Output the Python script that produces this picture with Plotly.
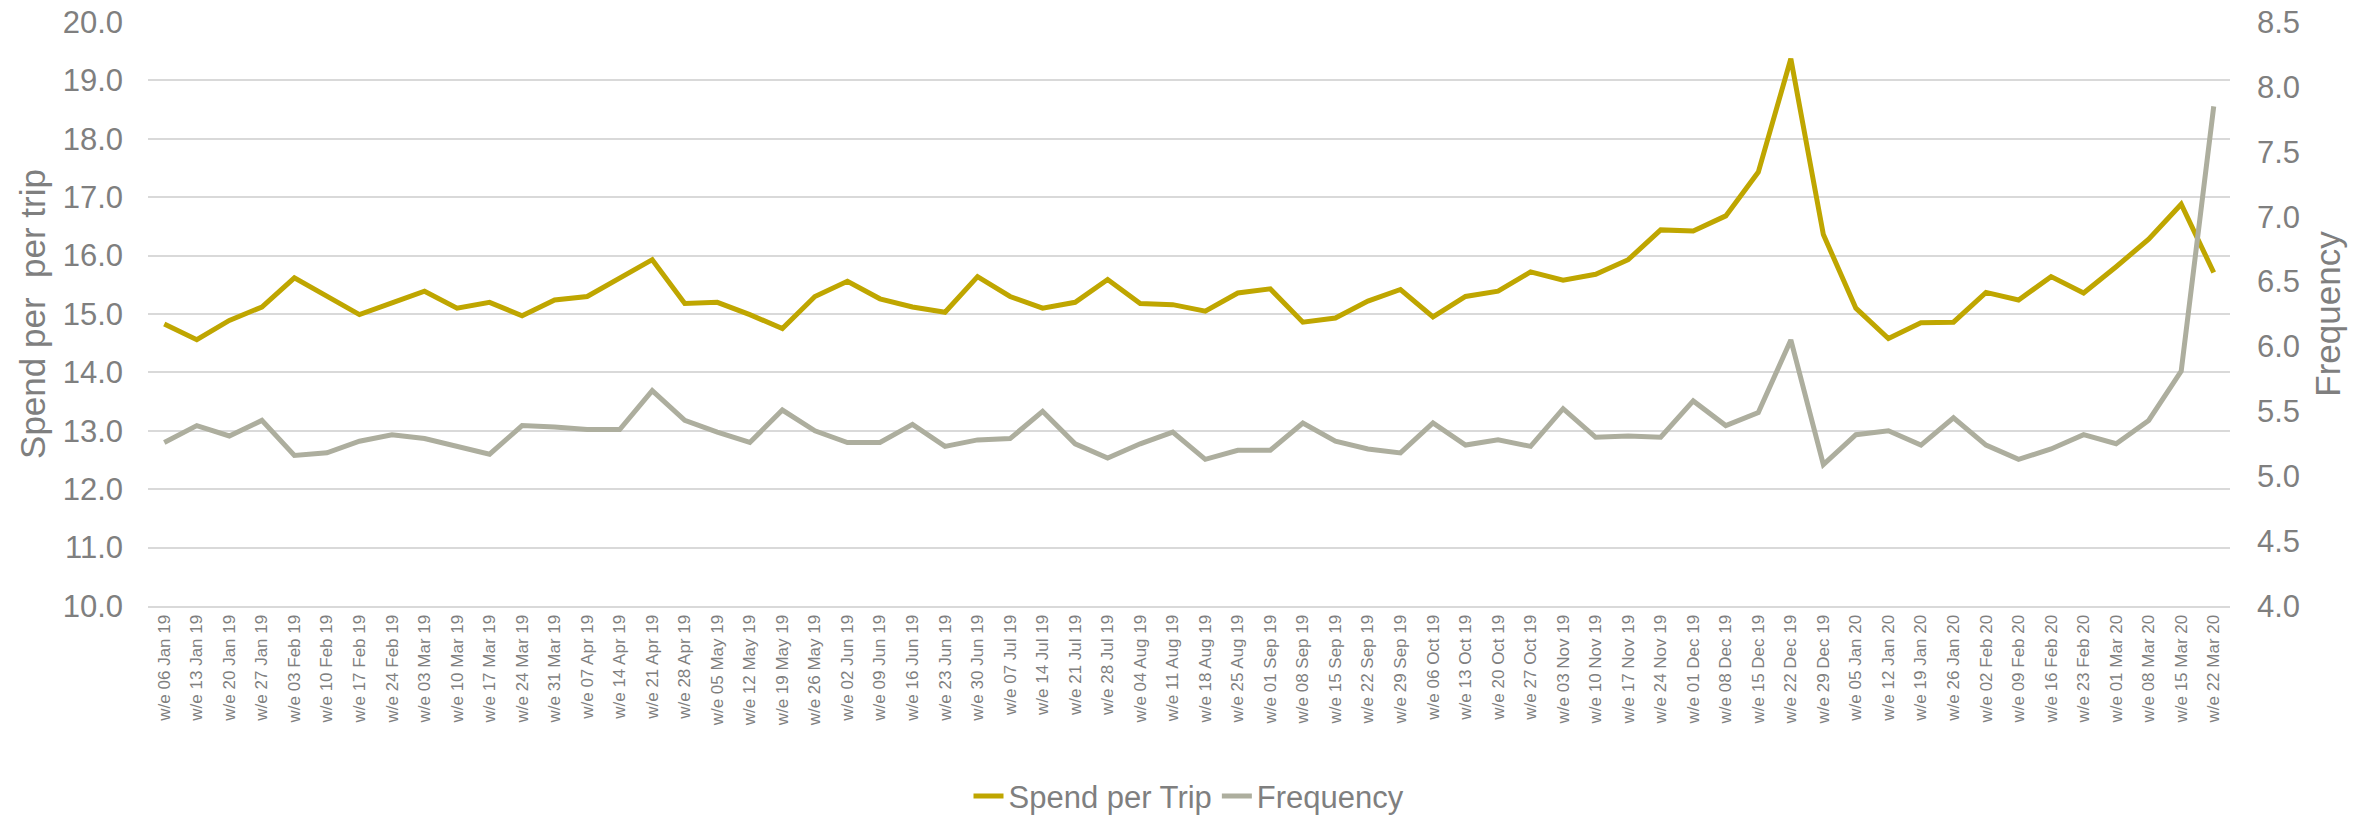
import plotly.graph_objects as go

weeks = [
    "w/e 06 Jan 19", "w/e 13 Jan 19", "w/e 20 Jan 19", "w/e 27 Jan 19",
    "w/e 03 Feb 19", "w/e 10 Feb 19", "w/e 17 Feb 19", "w/e 24 Feb 19",
    "w/e 03 Mar 19", "w/e 10 Mar 19", "w/e 17 Mar 19", "w/e 24 Mar 19",
    "w/e 31 Mar 19", "w/e 07 Apr 19", "w/e 14 Apr 19", "w/e 21 Apr 19",
    "w/e 28 Apr 19", "w/e 05 May 19", "w/e 12 May 19", "w/e 19 May 19",
    "w/e 26 May 19", "w/e 02 Jun 19", "w/e 09 Jun 19", "w/e 16 Jun 19",
    "w/e 23 Jun 19", "w/e 30 Jun 19", "w/e 07 Jul 19", "w/e 14 Jul 19",
    "w/e 21 Jul 19", "w/e 28 Jul 19", "w/e 04 Aug 19", "w/e 11 Aug 19",
    "w/e 18 Aug 19", "w/e 25 Aug 19", "w/e 01 Sep 19", "w/e 08 Sep 19",
    "w/e 15 Sep 19", "w/e 22 Sep 19", "w/e 29 Sep 19", "w/e 06 Oct 19",
    "w/e 13 Oct 19", "w/e 20 Oct 19", "w/e 27 Oct 19", "w/e 03 Nov 19",
    "w/e 10 Nov 19", "w/e 17 Nov 19", "w/e 24 Nov 19", "w/e 01 Dec 19",
    "w/e 08 Dec 19", "w/e 15 Dec 19", "w/e 22 Dec 19", "w/e 29 Dec 19",
    "w/e 05 Jan 20", "w/e 12 Jan 20", "w/e 19 Jan 20", "w/e 26 Jan 20",
    "w/e 02 Feb 20", "w/e 09 Feb 20", "w/e 16 Feb 20", "w/e 23 Feb 20",
    "w/e 01 Mar 20", "w/e 08 Mar 20", "w/e 15 Mar 20", "w/e 22 Mar 20",
]

spend_per_trip = [
    14.83, 14.56, 14.89, 15.12, 15.62, 15.30, 14.99, 15.19,
    15.39, 15.10, 15.20, 14.97, 15.24, 15.30, 15.61, 15.93,
    15.18, 15.20, 14.99, 14.75, 15.30, 15.56, 15.26, 15.12,
    15.03, 15.64, 15.30, 15.10, 15.20, 15.59, 15.18, 15.16,
    15.05, 15.36, 15.43, 14.86, 14.93, 15.22, 15.42, 14.95,
    15.30, 15.39, 15.72, 15.58, 15.68, 15.93, 16.44, 16.42,
    16.68, 17.43, 19.37, 16.36, 15.10, 14.58, 14.85, 14.86,
    15.37, 15.24, 15.64, 15.36, 15.81, 16.28, 16.88, 15.71,
]

frequency = [
    5.26, 5.39, 5.31, 5.43, 5.16, 5.18, 5.27, 5.32,
    5.29, 5.23, 5.17, 5.39, 5.38, 5.36, 5.36, 5.66,
    5.43, 5.34, 5.26, 5.51, 5.35, 5.26, 5.26, 5.40,
    5.23, 5.28, 5.29, 5.50, 5.25, 5.14, 5.25, 5.34,
    5.13, 5.20, 5.20, 5.41, 5.27, 5.21, 5.18, 5.41,
    5.24, 5.28, 5.23, 5.52, 5.30, 5.31, 5.30, 5.58,
    5.39, 5.49, 6.05, 5.09, 5.32, 5.35, 5.24, 5.45,
    5.24, 5.13, 5.21, 5.32, 5.25, 5.43, 5.81, 7.85,
]

GOLD = "#BFA600"
SAGE = "#ADAE9E"
TEXT = "#7F7F7F"
GRID = "#D9D9D9"
FONT = "Liberation Sans, Arial, sans-serif"

fig = go.Figure()
fig.add_trace(go.Scatter(
    x=weeks, y=spend_per_trip, name="Spend per Trip", mode="lines",
    line=dict(color=GOLD, width=5), yaxis="y",
))
fig.add_trace(go.Scatter(
    x=weeks, y=frequency, name="Frequency", mode="lines",
    line=dict(color=SAGE, width=5), yaxis="y2",
))

fig.update_layout(
    width=2376, height=819,
    margin=dict(l=148, r=146, t=22, b=213, autoexpand=False),
    paper_bgcolor="white", plot_bgcolor="white",
    font=dict(family=FONT, color=TEXT),
    showlegend=True,
    legend=dict(
        orientation="h", x=0.5, xanchor="center", y=-0.372, yanchor="bottom",
        font=dict(size=31, color=TEXT, family=FONT),
        bgcolor="rgba(0,0,0,0)",
    ),
    xaxis=dict(
        type="category", tickangle=-90, range=[-0.5, len(weeks) - 0.5],
        tickfont=dict(size=17, color=TEXT, family=FONT),
        showgrid=False, zeroline=False, ticks="",
        showline=True, linecolor=GRID, linewidth=2,
    ),
    yaxis=dict(
        range=[10, 20], dtick=1, tickformat=".1f",
        tickfont=dict(size=31, color=TEXT, family=FONT),
        showgrid=True, gridcolor=GRID, gridwidth=2,
        zeroline=False, showline=False, ticks="", ticklabelstandoff=24,
        title=dict(text="Spend per\u00a0 per trip", font=dict(size=35, color=TEXT, family=FONT), standoff=6),
    ),
    yaxis2=dict(
        range=[4, 8.5], dtick=0.5, tickformat=".1f", overlaying="y", side="right",
        tickfont=dict(size=31, color=TEXT, family=FONT),
        showgrid=False, zeroline=False, showline=False, ticks="", ticklabelstandoff=26,
        title=dict(text="Frequency", font=dict(size=35, color=TEXT, family=FONT), standoff=16),
    ),
)

fig.write_html("out.html")
